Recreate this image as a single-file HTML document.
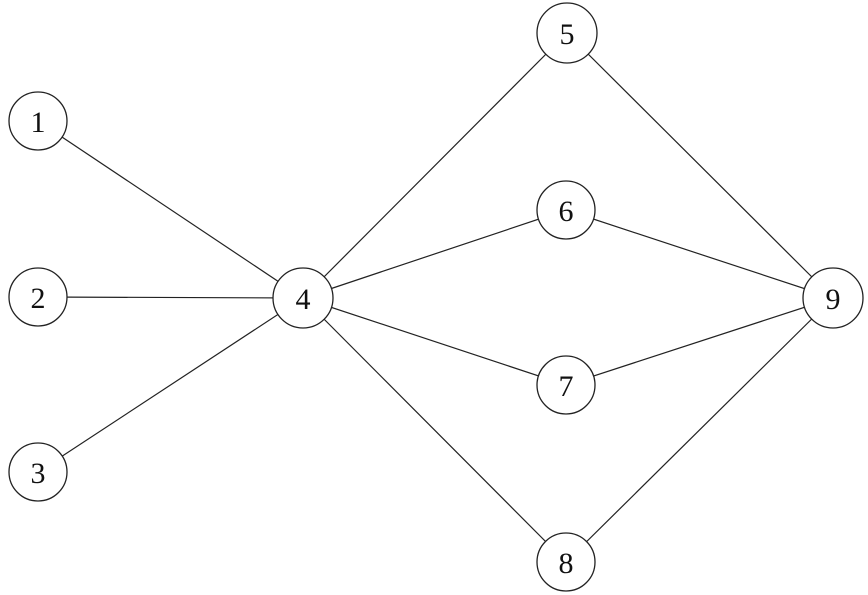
<!DOCTYPE html>
<html><head><style>body{margin:0;background:#fff}svg{display:block}</style></head><body>
<svg width="868" height="595" viewBox="0 0 868 595" xmlns="http://www.w3.org/2000/svg">
<g stroke="#222" stroke-width="1.2" fill="none">
<line x1="38" y1="121" x2="303" y2="298"/>
<line x1="38" y1="297" x2="303" y2="298"/>
<line x1="38" y1="472" x2="303" y2="298"/>
<line x1="303" y1="298" x2="567" y2="33"/>
<line x1="303" y1="298" x2="566" y2="210"/>
<line x1="303" y1="298" x2="566" y2="385"/>
<line x1="303" y1="298" x2="566" y2="562"/>
<line x1="567" y1="33" x2="833" y2="298"/>
<line x1="566" y1="210" x2="833" y2="298"/>
<line x1="566" y1="385" x2="833" y2="298"/>
<line x1="566" y1="562" x2="833" y2="298"/>
</g>
<g stroke="#222" stroke-width="1.3" fill="#fff">
<circle cx="38" cy="121" r="29"/>
<circle cx="38" cy="297" r="29"/>
<circle cx="38" cy="472" r="29"/>
<circle cx="303" cy="298" r="30"/>
<circle cx="567" cy="33" r="30"/>
<circle cx="566" cy="210" r="29"/>
<circle cx="566" cy="385" r="29"/>
<circle cx="566" cy="562" r="29"/>
<circle cx="833" cy="298" r="30"/>
</g>
<g font-family="Liberation Serif, serif" font-size="30" text-anchor="middle" fill="#111">
<text x="38" y="132">1</text>
<text x="38" y="308">2</text>
<text x="38" y="483">3</text>
<text x="303" y="309">4</text>
<text x="567" y="44">5</text>
<text x="566" y="221">6</text>
<text x="566" y="396">7</text>
<text x="566" y="573">8</text>
<text x="833" y="309">9</text>
</g>
</svg>
</body></html>
